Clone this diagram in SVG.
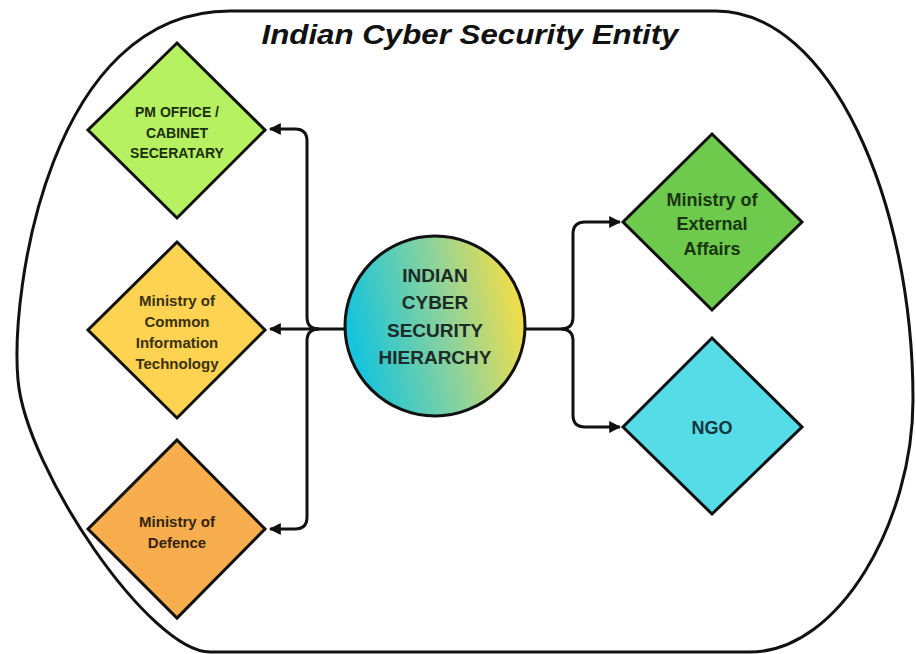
<svg xmlns="http://www.w3.org/2000/svg" width="916" height="654" viewBox="0 0 916 654">
<defs>
  <linearGradient id="hub" x1="0.05" y1="0.6" x2="1" y2="0.4">
    <stop offset="0" stop-color="#16c4dc"/>
    <stop offset="0.55" stop-color="#8fd39a"/>
    <stop offset="1" stop-color="#f6de45"/>
  </linearGradient>
  <marker id="arr" viewBox="0 0 10 10" refX="9" refY="5" markerWidth="4" markerHeight="4" orient="auto-start-reverse" markerUnits="strokeWidth">
    <path d="M0,0 L10,5 L0,10 Z" fill="#111"/>
  </marker>
  <style>
    .frame{fill:none;stroke:#111;stroke-width:3}
    .dia{stroke:#111;stroke-width:3;stroke-linejoin:miter}
    .lbl{font-family:"Liberation Sans",Arial,sans-serif;font-weight:bold;text-anchor:middle;dominant-baseline:central}
    .con{fill:none;stroke:#111;stroke-width:3}
    .title{font-family:"Liberation Sans",Arial,sans-serif;font-weight:bold;font-style:italic;font-size:27px;fill:#111;text-anchor:middle}
  </style>
</defs>
<rect width="916" height="654" fill="#fff"/>
<path class="frame" d="M 230 11 L 716 11 C 830 11, 913 200, 913 400 C 913 520, 840 652, 750 652 L 210 652 C 150 652, 26 470, 18 380 C 10 290, 50 11, 230 11 Z"/>
<text class="title" x="470" y="44" textLength="417" lengthAdjust="spacingAndGlyphs">Indian Cyber Security Entity</text>

<g id="connectors">
  <path class="con" d="M 345 329 H 270" marker-end="url(#arr)"/>
  <path class="con" d="M 319 329 Q 307 329 307 317 V 141 Q 307 129 295 129 H 270" marker-end="url(#arr)"/>
  <path class="con" d="M 319 329 Q 307 329 307 341 V 517 Q 307 529 295 529 H 270" marker-end="url(#arr)"/>
  <path class="con" d="M 525 329 H 561"/>
  <path class="con" d="M 561 329 Q 573 329 573 317 V 234 Q 573 222 585 222 H 620" marker-end="url(#arr)"/>
  <path class="con" d="M 561 329 Q 573 329 573 341 V 415 Q 573 427 585 427 H 620" marker-end="url(#arr)"/>
</g>

<g id="pm-office">
  <polygon class="dia" points="177,43 265,130 177,218 88,130" fill="#b6f161"/>
  <text class="lbl" font-size="14" fill="#1c2e12"><tspan x="177" y="112">PM OFFICE /</tspan><tspan x="177" y="133">CABINET</tspan><tspan x="177" y="153">SECERATARY</tspan></text>
</g>

<g id="ministry-it">
  <polygon class="dia" points="177,242 265,330 177,418 88,330" fill="#fdd351"/>
  <text class="lbl" font-size="15" fill="#3a3014"><tspan x="177" y="300">Ministry of</tspan><tspan x="177" y="321">Common</tspan><tspan x="177" y="342">Information</tspan><tspan x="177" y="363">Technology</tspan></text>
</g>

<g id="ministry-defence">
  <polygon class="dia" points="177,440 265,529 177,618 88,529" fill="#f8ad4e"/>
  <text class="lbl" font-size="15" fill="#33240e"><tspan x="177" y="521">Ministry of</tspan><tspan x="177" y="542">Defence</tspan></text>
</g>

<g id="hub">
  <circle cx="435" cy="326" r="90" fill="url(#hub)" stroke="#111" stroke-width="3"/>
  <text class="lbl" font-size="19" fill="#1d2b27"><tspan x="435" y="275">INDIAN</tspan><tspan x="435" y="302">CYBER</tspan><tspan x="435" y="330">SECURITY</tspan><tspan x="435" y="357">HIERARCHY</tspan></text>
</g>

<g id="ministry-external">
  <polygon class="dia" points="712,134 802,222 712,310 623,222" fill="#6dca4c"/>
  <text class="lbl" font-size="18" fill="#1a3512"><tspan x="712" y="200">Ministry of</tspan><tspan x="712" y="224">External</tspan><tspan x="712" y="249">Affairs</tspan></text>
</g>

<g id="ngo">
  <polygon class="dia" points="712,338 802,427 712,514 623,427" fill="#56dce6"/>
  <text class="lbl" font-size="18" fill="#11363c" x="712" y="428">NGO</text>
</g>
</svg>
